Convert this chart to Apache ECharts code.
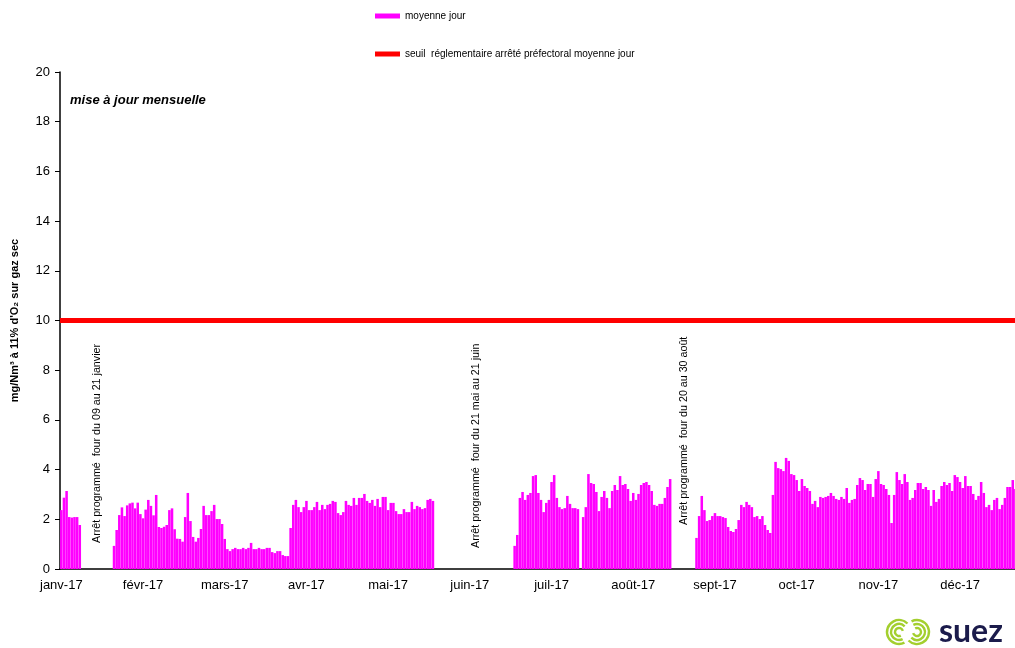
<!DOCTYPE html>
<html>
<head>
<meta charset="utf-8">
<script src="https://cdn.jsdelivr.net/npm/echarts@6/dist/echarts.min.js"></script>
<style>
  html, body { margin: 0; padding: 0; background: #fff; }
  #main { width: 1015px; height: 648px; }
</style>
</head>
<body>
<div id="main"></div>
<script>
// libellés des mois (axe x) et longueur des mois 2017
const monthNames = ['janv', 'févr', 'mars', 'avr', 'mai', 'juin', 'juil', 'août', 'sept', 'oct', 'nov', 'déc']
const monthLengths = [31, 28, 31, 30, 31, 30, 31, 31, 30, 31, 30, 31]

const janv = [2.37, 2.87, 3.14, 2.09, 2.07, 2.09, 2.09, 1.77,
  null, null, null, null, null, null, null, null, null, null, null, null,
  0.93, 1.57, 2.17, 2.48, 2.13, 2.56, 2.64, 2.67, 2.44, 2.67, 2.21]
const fevr = [2.04, 2.39, 2.78, 2.54, 2.16, 2.98, 1.69, 1.65, 1.70, 1.77, 2.37, 2.44, 1.60, 1.22,
  1.21, 1.10, 2.09, 3.06, 1.93, 1.29, 1.10, 1.25, 1.61, 2.54, 2.17, 2.17, 2.33, 2.58]
const mars = [2.01, 2.01, 1.81, 1.21, 0.80, 0.72, 0.80, 0.85, 0.80, 0.80, 0.85, 0.80, 0.85, 1.05, 0.80,
  0.80, 0.85, 0.80, 0.80, 0.85, 0.85, 0.68, 0.64, 0.72, 0.72, 0.56, 0.52, 0.52, 1.65, 2.58, 2.78]
const avr = [2.49, 2.29, 2.49, 2.74, 2.37, 2.37, 2.49, 2.70, 2.37, 2.58, 2.41, 2.58, 2.62, 2.74, 2.70,
  2.25, 2.17, 2.29, 2.74, 2.58, 2.54, 2.86, 2.58, 2.86, 2.86, 3.02, 2.74, 2.66, 2.78, 2.54]
const mai = [2.82, 2.49, 2.90, 2.90, 2.37, 2.66, 2.66, 2.33, 2.21, 2.21, 2.41, 2.29, 2.29, 2.70, 2.41,
  2.54, 2.49, 2.41, 2.45, 2.78, 2.82, 2.74,
  null, null, null, null, null, null, null, null, null]
const juin = [null, null, null, null, null, null, null, null, null, null, null, null, null, null, null,
  null, null, null, null, null, null,
  0.93, 1.37, 2.86, 3.10, 2.78, 2.98, 3.06, 3.74, 3.78]
const juil = [3.06, 2.78, 2.29, 2.66, 2.78, 3.50, 3.78, 2.86, 2.49, 2.41, 2.45, 2.94, 2.62, 2.45, 2.45,
  2.41, null, 2.09, 2.49, 3.82, 3.46, 3.42, 3.10, 2.33, 2.90, 3.14, 2.86, 2.45, 3.14, 3.38, 3.18]
const aout = [3.74, 3.38, 3.42, 3.22, 2.74, 3.06, 2.78, 3.02, 3.38, 3.46, 3.50, 3.38, 3.14, 2.58, 2.54,
  2.62, 2.62, 2.86, 3.30, 3.62,
  null, null, null, null, null, null, null, null, null,
  1.25, 2.13]
const sept = [2.94, 2.37, 1.93, 1.97, 2.13, 2.25, 2.13, 2.13, 2.09, 2.05, 1.69, 1.53, 1.49, 1.61, 1.97,
  2.58, 2.49, 2.70, 2.58, 2.49, 2.09, 2.13, 2.01, 2.13, 1.77, 1.57, 1.45, 2.98, 4.31, 4.06]
const oct = [4.02, 3.94, 4.47, 4.35, 3.82, 3.78, 3.58, 3.14, 3.62, 3.34, 3.26, 3.14, 2.62, 2.74, 2.49,
  2.90, 2.86, 2.90, 2.94, 3.06, 2.94, 2.82, 2.78, 2.90, 2.82, 3.26, 2.66, 2.78, 2.82, 3.38, 3.66]
const nov = [3.58, 3.18, 3.42, 3.42, 2.90, 3.62, 3.94, 3.42, 3.38, 3.22, 2.98, 1.85, 2.98, 3.90, 3.58,
  3.42, 3.82, 3.50, 2.78, 2.86, 3.18, 3.46, 3.46, 3.22, 3.30, 3.18, 2.54, 3.18, 2.70, 2.82]
const dec = [3.34, 3.50, 3.38, 3.46, 3.14, 3.78, 3.70, 3.50, 3.26, 3.74, 3.34, 3.34, 3.02, 2.78, 2.94,
  3.50, 3.06, 2.49, 2.58, 2.37, 2.78, 2.86, 2.41, 2.58, 2.86, 3.30, 3.30, 3.58, 3.22, null, null]

const seuil = 10
const yMin = 0
const yMax = 20
const yStep = 2

const moyenneJour = [].concat(janv, fevr, mars, avr, mai, juin, juil, aout, sept, oct, nov, dec)

// une catégorie par jour de 2017
const days = []
const dayMonth = []
monthLengths.forEach((len, m) => {
  for (let d = 1; d <= len; d++) {
    days.push(d + '/' + (m + 1) + '/2017')
    dayMonth.push(m)
  }
})

const nomSerie = 'moyenne jour'
const nomSeuil = 'seuil  réglementaire arrêté préfectoral moyenne jour'
const fontFam = '"Liberation Sans", Arial, sans-serif'

const chart = echarts.init(document.getElementById('main'))

const rotText = (x, y, text) => ({
  type: 'text',
  x: x,
  y: y,
  rotation: Math.PI / 2,
  style: {
    text: text,
    fontFamily: fontFam,
    fontSize: 10.7,
    fill: '#000',
    align: 'left',
    verticalAlign: 'middle'
  }
})

const arc = (cx, cy, r, a0, a1) => ({
  type: 'arc',
  shape: { cx: cx, cy: cy, r: r, startAngle: a0, endAngle: a1 },
  style: { stroke: '#a3cf2e', lineWidth: 2.4, fill: null }
})

const option = {
  animation: false,
  textStyle: { fontFamily: fontFam },
  grid: {
    left: 60,
    right: -7,
    top: 72,
    bottom: 79,
    outerBoundsMode: 'none'
  },
  legend: {
    orient: 'vertical',
    left: 370,
    top: 6,
    itemGap: 28,
    itemWidth: 25,
    itemHeight: 5,
    textStyle: { fontSize: 10, color: '#000', fontFamily: fontFam },
    data: [
      { name: nomSerie, icon: 'rect' },
      { name: nomSeuil, icon: 'rect', itemStyle: { color: '#ff0000' } }
    ]
  },
  xAxis: {
    type: 'category',
    data: days,
    boundaryGap: true,
    axisLine: { lineStyle: { color: '#000', width: 1.5 } },
    axisTick: { show: false },
    axisLabel: {
      interval: 30,
      color: '#000',
      fontSize: 13,
      margin: 10,
      formatter: (v, i) => monthNames[dayMonth[i]] + '-17'
    },
    splitLine: { show: false }
  },
  yAxis: {
    type: 'value',
    min: yMin,
    max: yMax,
    interval: yStep,
    name: 'mg/Nm³ à 11% d\'O₂ sur gaz sec',
    nameLocation: 'middle',
    nameGap: 40,
    nameTextStyle: { fontSize: 11, fontWeight: 'bold', color: '#000' },
    axisLine: { show: true, lineStyle: { color: '#000', width: 1.5 } },
    axisTick: { show: true, length: 5, lineStyle: { color: '#000' } },
    axisLabel: { color: '#000', fontSize: 13, margin: 10 },
    splitLine: { show: false }
  },
  series: [
    {
      name: nomSerie,
      type: 'bar',
      data: moyenneJour,
      barCategoryGap: '4%',
      itemStyle: { color: '#ff00ff' }
    },
    {
      name: nomSeuil,
      type: 'line',
      data: [],
      itemStyle: { color: '#ff0000' },
      markLine: {
        silent: true,
        symbol: 'none',
        label: { show: false },
        lineStyle: { color: '#ff0000', width: 5, type: 'solid' },
        data: [{ yAxis: seuil }]
      }
    }
  ],
  graphic: [
    {
      type: 'text',
      x: 70,
      y: 100,
      style: {
        text: 'mise à jour mensuelle',
        fontFamily: fontFam,
        fontSize: 13,
        fontStyle: 'italic',
        fontWeight: 'bold',
        fill: '#000',
        verticalAlign: 'middle'
      }
    },
    rotText(97, 543, 'Arrêt programmé  four du 09 au 21 janvier'),
    rotText(476, 548, 'Arrêt programmé  four du 21 mai au 21 juin'),
    rotText(684, 525, 'Arrêt programmé  four du 20 au 30 août'),
    // logo
    arc(899, 632, 12, Math.PI * 0.35, Math.PI * 1.75),
    arc(899, 632, 8, Math.PI * 0.35, Math.PI * 1.75),
    arc(899, 632, 4, Math.PI * 0.35, Math.PI * 1.9),
    arc(917, 632, 12, Math.PI * 1.35, Math.PI * 2.75),
    arc(917, 632, 8, Math.PI * 1.35, Math.PI * 2.75),
    arc(917, 632, 4, Math.PI * 1.35, Math.PI * 2.9),
    {
      type: 'text',
      x: 939,
      y: 632,
      style: {
        text: 'suez',
        fontFamily: 'Lato, "Open Sans", sans-serif',
        fontSize: 32,
        fontWeight: 'bold',
        fill: '#1b1b4b',
        verticalAlign: 'middle'
      }
    }
  ]
}

chart.setOption(option)
</script>
</body>
</html>
